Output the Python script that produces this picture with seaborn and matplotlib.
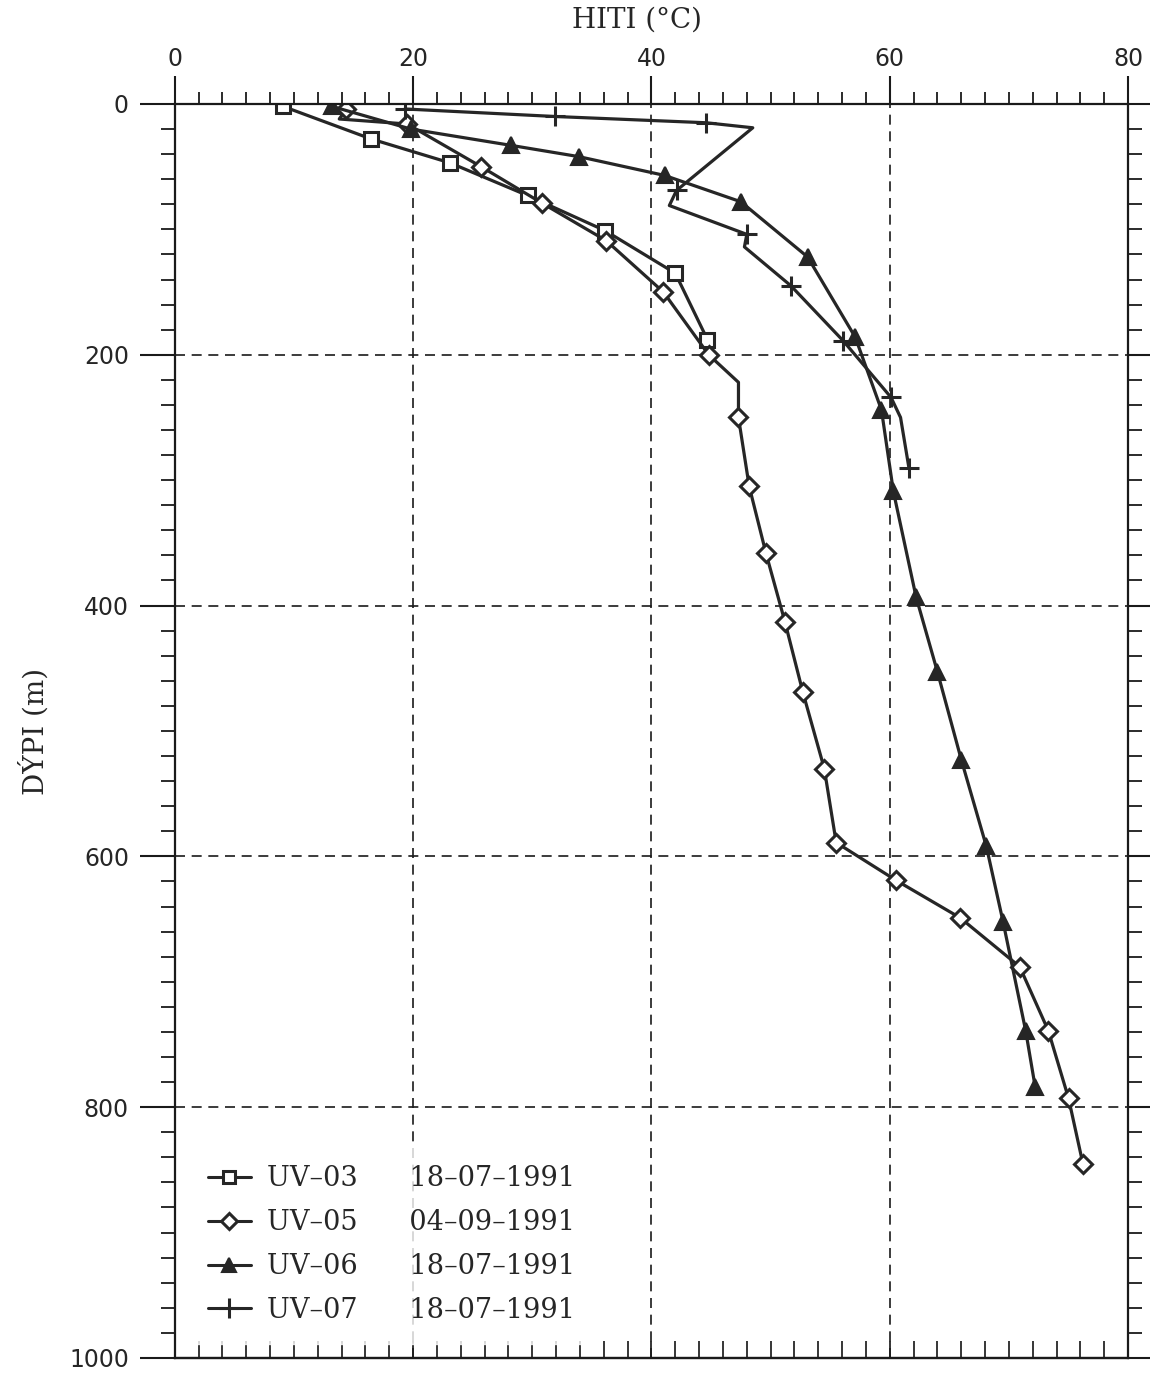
import numpy as np
import pandas as pd
import seaborn as sns
import matplotlib.pyplot as plt
from matplotlib.ticker import MultipleLocator
from matplotlib.lines import Line2D

# UV-03, 18-07-1991
uv03_t = [9.1, 16.5, 23.1, 29.6, 36.1, 42.0, 44.7]
uv03_d = [2, 28, 47, 73, 101, 135, 188]

# UV-05, 04-09-1991
uv05_t = [14.4, 13.8, 19.5, 25.7, 30.8, 36.2, 41.0, 44.8, 47.3, 47.3, 48.2,
          49.6, 51.2, 52.7, 54.5, 55.5, 60.5, 65.9, 70.9, 73.3, 75.0, 76.2]
uv05_d = [4, 12, 16, 50, 79, 109, 150, 200, 222, 250, 305,
          358, 413, 469, 530, 589, 619, 649, 688, 739, 793, 845]
uv05_marks = [0, 2, 3, 4, 5, 6, 7, 9, 10, 11, 12, 13, 14, 15, 16, 17, 18, 19, 20, 21]

# UV-06, 18-07-1991
uv06_t = [13.2, 19.8, 28.2, 33.9, 41.1, 47.5, 53.1, 57.1, 59.3, 60.3, 62.2,
          64.0, 66.0, 68.1, 69.5, 71.4, 72.2]
uv06_d = [2, 20, 33, 42, 57, 78, 122, 186, 244, 309, 393,
          453, 523, 592, 652, 739, 784]

# UV-07, 18-07-1991
uv07_t = [19.3, 31.9, 44.6, 48.5, 42.1, 41.5, 48.0, 47.8, 51.7, 56.1, 60.1, 60.9, 61.6]
uv07_d = [4, 10, 15, 19, 69, 81, 104, 114, 145, 189, 234, 250, 290]
uv07_marks = [0, 1, 2, 4, 6, 8, 9, 10, 12]

labels = ["UV–03      18–07–1991", "UV–05      04–09–1991",
          "UV–06      18–07–1991", "UV–07      18–07–1991"]

sns.set_theme(style="ticks")
plt.rcParams['font.family'] = ['DejaVu Serif']

fig = plt.figure(figsize=(11.5, 13.75), dpi=100)
ax = fig.add_axes([0.152, 0.0124, 0.829, 0.912])

ink = '#262626'
styles = [
    dict(marker='s', markersize=10, markerfacecolor='white', markeredgewidth=2.2),
    dict(marker='D', markersize=9, markerfacecolor='white', markeredgewidth=2.2),
    dict(marker='^', markersize=11, markerfacecolor=ink, markeredgewidth=1.5),
    dict(marker='+', markersize=15, markeredgewidth=2.2),
]
series = [
    (uv03_t, uv03_d, None),
    (uv05_t, uv05_d, uv05_marks),
    (uv06_t, uv06_d, None),
    (uv07_t, uv07_d, uv07_marks),
]

for (t, d, marks), st in zip(series, styles):
    df = pd.DataFrame({'hiti': t, 'dypi': d})
    sns.lineplot(data=df, x='hiti', y='dypi', sort=False, estimator=None,
                 color=ink, linewidth=2.3, markeredgecolor=ink,
                 markevery=marks, ax=ax, **st)

ax.set_xlim(0, 80)
ax.set_ylim(1000, 0)
ax.set_xlabel('')
ax.set_ylabel('DÝPI (m)', fontsize=20, labelpad=14)
fig.text(0.554, 1 - 20 / 1375, 'HITI (°C)', fontsize=20, ha='center', va='center')

ax.xaxis.set_major_locator(MultipleLocator(20))
ax.xaxis.set_minor_locator(MultipleLocator(2))
ax.yaxis.set_major_locator(MultipleLocator(200))
ax.yaxis.set_minor_locator(MultipleLocator(20))

ax.tick_params(axis='x', which='both', direction='out', top=True, bottom=False,
               labeltop=True, labelbottom=False, color='k')
ax.tick_params(axis='x', which='major', length=20, width=1.5, labelsize=17, pad=4)
ax.tick_params(axis='x', which='minor', length=9, width=1.3)
ax.tick_params(axis='y', which='both', direction='out', left=True, right=True,
               labelleft=True, labelright=False, color='k')
ax.tick_params(axis='y', which='major', length=25, width=1.5, labelsize=17, pad=8)
ax.tick_params(axis='y', which='minor', length=10, width=1.3)
for lab in ax.get_xticklabels() + ax.get_yticklabels():
    lab.set_family('DejaVu Sans')

sec = ax.secondary_xaxis('bottom')
sec.xaxis.set_major_locator(MultipleLocator(2))
sec.tick_params(axis='x', direction='in', length=12, width=1.3, labelbottom=False)
sec.spines['bottom'].set_linewidth(1.6)

for s in ax.spines.values():
    s.set_linewidth(1.6)
    s.set_color('k')

ax.grid(True, which='major', color='k', linestyle=(0, (6, 4)), linewidth=1.2)

handles = [Line2D([0], [0], color=ink, linewidth=2.2, markeredgecolor=ink,
                  **{**st, 'markersize': st['markersize'] - 1})
           for st in styles]
leg = ax.legend(handles, labels, loc='lower left', bbox_to_anchor=(0.013, 0.011),
                borderaxespad=0, frameon=True, fontsize=19.5, handlelength=1.6,
                labelspacing=0.62, handletextpad=0.6, borderpad=0.75)
leg.get_frame().set_facecolor('white')
leg.get_frame().set_edgecolor('white')
leg.get_frame().set_boxstyle('square', pad=0)

fig.savefig('out.png', dpi=100, facecolor='white')
